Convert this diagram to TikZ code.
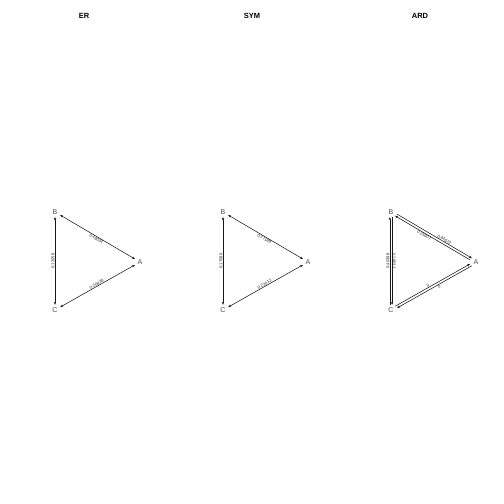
\documentclass[tikz,border=0pt]{standalone}
\usepackage{fontspec}
\setmainfont{Liberation Sans}
\usetikzlibrary{arrows.meta}
\begin{document}
\begin{tikzpicture}[x=1pt,y=-1pt,
  vtx/.style={text=black!70,font=\fontsize{7}{7}\selectfont,inner sep=2.5pt},
  ttl/.style={font=\fontsize{7.5}{8}\selectfont\bfseries},
  edg/.style={draw=black!90,line width=0.55pt,{Stealth[length=3pt,width=2.4pt]}-{Stealth[length=3pt,width=2.4pt]}},
  one/.style={draw=black!90,line width=0.55pt,-{Stealth[length=3pt,width=2.4pt]}},
  wlab/.style={font=\fontsize{4.2}{4.5}\selectfont,text=black!85,inner sep=0.3pt,sloped}]
\useasboundingbox (0,0) rectangle (504,504);
% ER
\node[ttl] (t1) at (84,16) {ER};
\node[vtx] (b1) at (55,212) {B};
\node[vtx] (a1) at (140,262) {A};
\node[vtx] (c1) at (55,310) {C};
\draw[edg] (b1) -- node[wlab,below]{0.48034} (a1);
\draw[edg] (c1) -- node[wlab,above]{0.20838} (a1);
\draw[edg] (c1) -- node[wlab,above]{0.12058} (b1);
% SYM
\node[ttl] (t2) at (252,16) {SYM};
\node[vtx] (b2) at (223,212) {B};
\node[vtx] (a2) at (308,262) {A};
\node[vtx] (c2) at (223,310) {C};
\draw[edg] (b2) -- node[wlab,below]{0.27189} (a2);
\draw[edg] (c2) -- node[wlab,above]{0.22012} (a2);
\draw[edg] (c2) -- node[wlab,above]{0.17080} (b2);
% ARD
\node[ttl] (t3) at (420,16) {ARD};
\node[vtx] (b3) at (391,212) {B};
\node[vtx] (a3) at (476,262) {A};
\node[vtx] (c3) at (391,310) {C};
\draw[one,transform canvas={shift={(0.9pt,0.9pt)}}] (b3) -- node[wlab,above,pos=0.62]{0.44672} (a3);
\draw[one,transform canvas={shift={(-0.9pt,-0.9pt)}}] (a3) -- node[wlab,below,pos=0.6]{0.21607} (b3);
\draw[one,transform canvas={shift={(-0.9pt,0.9pt)}}] (c3) -- node[wlab,above,pos=0.45]{0} (a3);
\draw[one,transform canvas={shift={(0.9pt,-0.9pt)}}] (a3) -- node[wlab,below,pos=0.45]{0} (c3);
\draw[one,transform canvas={shift={(-1.1pt,0pt)}}] (c3) -- node[wlab,above]{0.40398} (b3);
\draw[one,transform canvas={shift={(1.1pt,0pt)}}] (b3) -- node[wlab,above]{0.28033} (c3);
\end{tikzpicture}
\end{document}
